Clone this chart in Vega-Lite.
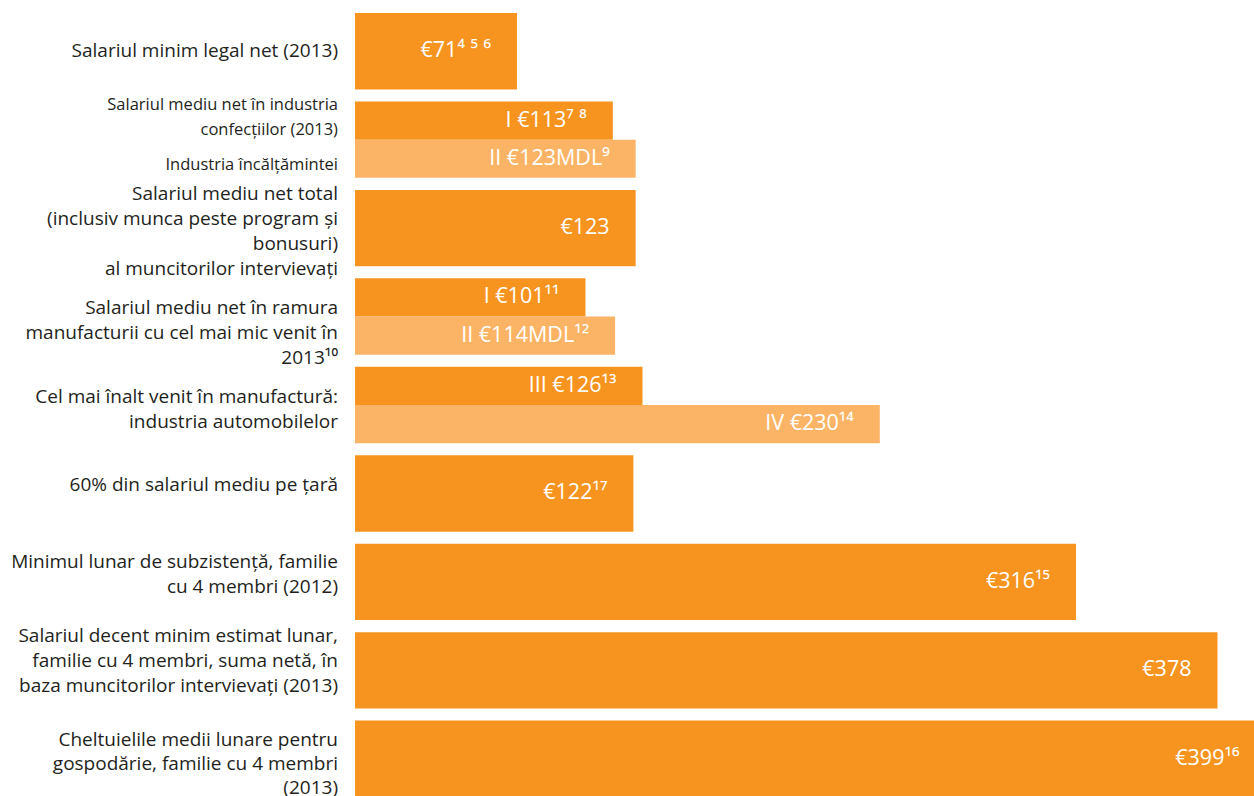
{
  "$schema": "https://vega.github.io/schema/vega-lite/v6.json",
  "width": 899,
  "height": 784,
  "autosize": {"type": "none"},
  "padding": {"left": 355, "top": 13, "right": 0, "bottom": 0},
  "background": "white",
  "config": {"view": {"stroke": null}, "font": "Open Sans"},
  "datasets": {
    "bars": [
      {"g": "A", "half": "full", "value": 71, "label": "€71⁴ ⁵ ⁶"},
      {"g": "B", "half": "upper", "value": 113, "label": "I €113⁷ ⁸"},
      {"g": "B", "half": "lower", "value": 123, "label": "II €123MDL⁹"},
      {"g": "C", "half": "full", "value": 123, "label": "€123"},
      {"g": "D", "half": "upper", "value": 101, "label": "I €101¹¹"},
      {"g": "D", "half": "lower", "value": 114, "label": "II €114MDL¹²"},
      {"g": "E", "half": "upper", "value": 126, "label": "III €126¹³"},
      {"g": "E", "half": "lower", "value": 230, "label": "IV €230¹⁴"},
      {"g": "F", "half": "full", "value": 122, "label": "€122¹⁷"},
      {"g": "G", "half": "full", "value": 316, "label": "€316¹⁵"},
      {"g": "H", "half": "full", "value": 378, "label": "€378"},
      {"g": "I", "half": "full", "value": 399, "label": "€399¹⁶"}
    ],
    "labels": [
      {"g": "A", "half": "full", "text": "Salariul minim legal net (2013)"},
      {"g": "B", "half": "upper", "text": "Salariul mediu net în industria|confecțiilor (2013)"},
      {"g": "B", "half": "lower", "text": "Industria încălțămintei"},
      {"g": "C", "half": "full", "text": "Salariul mediu net total|(inclusiv munca peste program și|bonusuri)|al muncitorilor intervievați"},
      {"g": "D", "half": "full", "text": "Salariul mediu net în ramura|manufacturii cu cel mai mic venit în|2013¹⁰"},
      {"g": "E", "half": "full", "text": "Cel mai înalt venit în manufactură:|industria automobilelor"},
      {"g": "F", "half": "full", "text": "60% din salariul mediu pe țară"},
      {"g": "G", "half": "full", "text": "Minimul lunar de subzistență, familie|cu 4 membri (2012)"},
      {"g": "H", "half": "full", "text": "Salariul decent minim estimat lunar,|familie cu 4 membri, suma netă, în|baza muncitorilor intervievați (2013)"},
      {"g": "I", "half": "full", "text": "Cheltuielile medii lunare pentru|gospodărie, familie cu 4 membri|(2013)"}
    ]
  },
  "encoding": {
    "y": {
      "field": "g", "type": "nominal",
      "scale": {"domain": ["A","B","C","D","E","F","G","H","I"], "paddingInner": 0.136, "paddingOuter": 0},
      "axis": null
    }
  },
  "layer": [
    {
      "data": {"name": "bars"},
      "transform": [{"filter": "datum.half == 'full'"}],
      "mark": {"type": "bar", "color": "#F7941F", "clip": true},
      "encoding": {
        "x": {"field": "value", "type": "quantitative", "scale": {"domain": [0, 394], "nice": false, "zero": true}, "axis": null}
      }
    },
    {
      "data": {"name": "bars"},
      "transform": [{"filter": "datum.half != 'full'"}],
      "mark": {"type": "bar", "clip": true},
      "encoding": {
        "x": {"field": "value", "type": "quantitative"},
        "yOffset": {"field": "half", "type": "nominal", "scale": {"domain": ["upper","lower"], "paddingInner": 0, "paddingOuter": 0}},
        "color": {"field": "half", "type": "nominal", "scale": {"domain": ["upper","lower"], "range": ["#F7941F","#FBB466"]}, "legend": null}
      }
    },
    {
      "data": {"name": "bars"},
      "transform": [{"filter": "datum.half == 'full'"}],
      "mark": {"type": "text", "align": "right", "baseline": "middle", "dx": -26, "fontSize": 21.5, "color": "white"},
      "encoding": {
        "x": {"field": "value", "type": "quantitative"},
        "text": {"field": "label"}
      }
    },
    {
      "data": {"name": "bars"},
      "transform": [{"filter": "datum.half != 'full'"}],
      "mark": {"type": "text", "align": "right", "baseline": "middle", "dx": -26, "fontSize": 21.5, "color": "white"},
      "encoding": {
        "x": {"field": "value", "type": "quantitative"},
        "yOffset": {"field": "half", "type": "nominal"},
        "text": {"field": "label"}
      }
    },
    {
      "data": {"name": "labels"},
      "transform": [{"filter": "datum.g == 'A'"}],
      "mark": {"type": "text", "align": "right", "baseline": "middle", "dx": -17, "dy": 0, "fontSize": 19, "lineHeight": 25, "lineBreak": "|", "color": "#231F20"},
      "encoding": {"x": {"value": 0}, "text": {"field": "text"}}
    },
    {
      "data": {"name": "labels"},
      "transform": [{"filter": "datum.g == 'D' || datum.g == 'E' || datum.g == 'F'"}],
      "mark": {"type": "text", "align": "right", "baseline": "middle", "dx": -17, "dy": -8.5, "fontSize": 19, "lineHeight": 25, "lineBreak": "|", "color": "#231F20"},
      "encoding": {"x": {"value": 0}, "text": {"field": "text"}}
    },
    {
      "data": {"name": "labels"},
      "transform": [{"filter": "datum.g == 'G'"}],
      "mark": {"type": "text", "align": "right", "baseline": "middle", "dx": -17, "dy": -20, "fontSize": 19, "lineHeight": 25, "lineBreak": "|", "color": "#231F20"},
      "encoding": {"x": {"value": 0}, "text": {"field": "text"}}
    },
    {
      "data": {"name": "labels"},
      "transform": [{"filter": "datum.g == 'I'"}],
      "mark": {"type": "text", "align": "right", "baseline": "middle", "dx": -17, "dy": -19, "fontSize": 19, "lineHeight": 24, "lineBreak": "|", "color": "#231F20"},
      "encoding": {"x": {"value": 0}, "text": {"field": "text"}}
    },
    {
      "data": {"name": "labels"},
      "transform": [{"filter": "datum.g == 'C' || datum.g == 'H'"}],
      "mark": {"type": "text", "align": "right", "baseline": "middle", "dx": -17, "dy": -34, "fontSize": 19, "lineHeight": 25, "lineBreak": "|", "color": "#231F20"},
      "encoding": {"x": {"value": 0}, "text": {"field": "text"}}
    },
    {
      "data": {"name": "labels"},
      "transform": [{"filter": "datum.g == 'B' && datum.half == 'upper'"}],
      "mark": {"type": "text", "align": "right", "baseline": "middle", "dx": -17, "dy": -16, "fontSize": 16.5, "lineHeight": 25, "lineBreak": "|", "color": "#231F20"},
      "encoding": {
        "x": {"value": 0},
        "yOffset": {"field": "half", "type": "nominal"},
        "text": {"field": "text"}
      }
    },
    {
      "data": {"name": "labels"},
      "transform": [{"filter": "datum.g == 'B' && datum.half == 'lower'"}],
      "mark": {"type": "text", "align": "right", "baseline": "middle", "dx": -17, "dy": 6, "fontSize": 16.5, "lineHeight": 25, "lineBreak": "|", "color": "#231F20"},
      "encoding": {
        "x": {"value": 0},
        "yOffset": {"field": "half", "type": "nominal"},
        "text": {"field": "text"}
      }
    }
  ]
}
